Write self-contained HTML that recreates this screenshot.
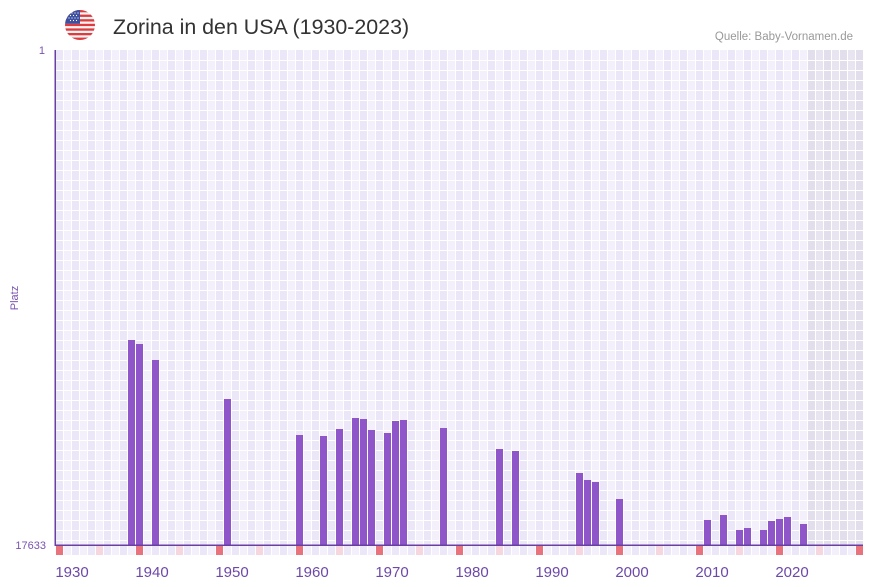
<!DOCTYPE html>
<html>
<head>
<meta charset="utf-8">
<style>
html,body{margin:0;padding:0;background:#fff;}
svg{display:block;}
text{font-family:"Liberation Sans",sans-serif;}
</style>
</head>
<body>
<svg width="873" height="587" viewBox="0 0 873 587" xmlns="http://www.w3.org/2000/svg">
<defs>
  <pattern id="cols" x="56" y="0" width="16" height="10" patternUnits="userSpaceOnUse">
    <rect x="0" y="0" width="16" height="10" fill="#ffffff"/>
    <rect x="0" y="0" width="7" height="10" fill="#ece7f8"/>
    <rect x="8" y="0" width="7" height="10" fill="#f3f0fb"/>
  </pattern>
  <pattern id="gcols" x="56" y="0" width="16" height="10" patternUnits="userSpaceOnUse">
    <rect x="0" y="0" width="16" height="10" fill="#ffffff"/>
    <rect x="0" y="0" width="7" height="10" fill="#e2deec"/>
    <rect x="8" y="0" width="7" height="10" fill="#e8e5f0"/>
  </pattern>
  <pattern id="rows" x="0" y="60" width="8" height="10" patternUnits="userSpaceOnUse">
    <rect x="0" y="0" width="8" height="1" fill="#ffffff"/>
  </pattern>
  <clipPath id="flagclip"><circle cx="80" cy="25" r="15"/></clipPath>
</defs>

<!-- flag -->
<g clip-path="url(#flagclip)">
  <rect x="65" y="10" width="30" height="30" fill="#f4f4f4"/>
  <rect x="65" y="10" width="30" height="2.3" fill="#e0393e"/>
  <rect x="65" y="14.6" width="30" height="2.3" fill="#e0393e"/>
  <rect x="65" y="19.2" width="30" height="2.3" fill="#e0393e"/>
  <rect x="65" y="23.8" width="30" height="2.3" fill="#e0393e"/>
  <rect x="65" y="28.4" width="30" height="2.3" fill="#e0393e"/>
  <rect x="65" y="33" width="30" height="2.3" fill="#e0393e"/>
  <rect x="65" y="37.6" width="30" height="2.4" fill="#e0393e"/>
  <rect x="65" y="10" width="15" height="13.8" fill="#3d4f9e"/>
  <g fill="#ffffff">
    <circle cx="69" cy="13" r="0.6"/><circle cx="72" cy="13" r="0.6"/><circle cx="75" cy="13" r="0.6"/><circle cx="78" cy="13" r="0.6"/>
    <circle cx="70.5" cy="15.5" r="0.6"/><circle cx="73.5" cy="15.5" r="0.6"/><circle cx="76.5" cy="15.5" r="0.6"/>
    <circle cx="69" cy="18" r="0.6"/><circle cx="72" cy="18" r="0.6"/><circle cx="75" cy="18" r="0.6"/><circle cx="78" cy="18" r="0.6"/>
    <circle cx="70.5" cy="20.5" r="0.6"/><circle cx="73.5" cy="20.5" r="0.6"/><circle cx="76.5" cy="20.5" r="0.6"/>
  </g>
</g>

<text x="113" y="34" font-size="21.4" fill="#333333">Zorina in den USA (1930-2023)</text>
<text x="853" y="40" font-size="11.5" fill="#999999" text-anchor="end">Quelle: Baby-Vornamen.de</text>

<!-- grid -->
<rect x="56" y="50" width="752" height="495" fill="url(#cols)"/>
<rect x="808" y="50" width="55" height="495" fill="url(#gcols)"/>
<rect x="56" y="51" width="807" height="494" fill="url(#rows)"/>

<!-- bottom strip -->
<rect x="56" y="546" width="807" height="9" fill="url(#cols)"/>
<g fill="#e8737c">
  <rect x="56" y="546" width="7" height="9"/>
  <rect x="136" y="546" width="7" height="9"/>
  <rect x="216" y="546" width="7" height="9"/>
  <rect x="296" y="546" width="7" height="9"/>
  <rect x="376" y="546" width="7" height="9"/>
  <rect x="456" y="546" width="7" height="9"/>
  <rect x="536" y="546" width="7" height="9"/>
  <rect x="616" y="546" width="7" height="9"/>
  <rect x="696" y="546" width="7" height="9"/>
  <rect x="776" y="546" width="7" height="9"/>
  <rect x="856" y="546" width="7" height="9"/>
</g>
<g fill="#f6d6df">
  <rect x="96" y="546" width="7" height="9"/>
  <rect x="176" y="546" width="7" height="9"/>
  <rect x="256" y="546" width="7" height="9"/>
  <rect x="336" y="546" width="7" height="9"/>
  <rect x="416" y="546" width="7" height="9"/>
  <rect x="496" y="546" width="7" height="9"/>
  <rect x="576" y="546" width="7" height="9"/>
  <rect x="656" y="546" width="7" height="9"/>
  <rect x="736" y="546" width="7" height="9"/>
  <rect x="816" y="546" width="7" height="9"/>
</g>

<!-- bars -->
<g fill="#8e56c8">
  <rect x="128" y="340" width="7" height="205"/>
  <rect x="136" y="344" width="7" height="201"/>
  <rect x="152" y="360" width="7" height="185"/>
  <rect x="224" y="399" width="7" height="146"/>
  <rect x="296" y="435" width="7" height="110"/>
  <rect x="320" y="436" width="7" height="109"/>
  <rect x="336" y="429" width="7" height="116"/>
  <rect x="352" y="418" width="7" height="127"/>
  <rect x="360" y="419" width="7" height="126"/>
  <rect x="368" y="430" width="7" height="115"/>
  <rect x="384" y="433" width="7" height="112"/>
  <rect x="392" y="421" width="7" height="124"/>
  <rect x="400" y="420" width="7" height="125"/>
  <rect x="440" y="428" width="7" height="117"/>
  <rect x="496" y="449" width="7" height="96"/>
  <rect x="512" y="451" width="7" height="94"/>
  <rect x="576" y="473" width="7" height="72"/>
  <rect x="584" y="480" width="7" height="65"/>
  <rect x="592" y="482" width="7" height="63"/>
  <rect x="616" y="499" width="7" height="46"/>
  <rect x="704" y="520" width="7" height="25"/>
  <rect x="720" y="515" width="7" height="30"/>
  <rect x="736" y="530" width="7" height="15"/>
  <rect x="744" y="528" width="7" height="17"/>
  <rect x="760" y="530" width="7" height="15"/>
  <rect x="768" y="521" width="7" height="24"/>
  <rect x="776" y="519" width="7" height="26"/>
  <rect x="784" y="517" width="7" height="28"/>
  <rect x="800" y="524" width="7" height="21"/>
</g>

<!-- axes -->
<rect x="54.5" y="50" width="1.5" height="496" fill="#6a3fa3"/>
<rect x="55" y="544.5" width="808" height="1.5" fill="#6a3fa3"/>

<!-- y labels -->
<text x="45" y="54" font-size="11" fill="#7a52b0" text-anchor="end">1</text>
<text x="46" y="549" font-size="11" fill="#7a52b0" text-anchor="end">17633</text>
<text transform="translate(18,298) rotate(-90)" font-size="11" fill="#7a52b0" text-anchor="middle">Platz</text>

<!-- x labels -->
<g font-size="15" fill="#6e48a8" text-anchor="middle">
  <text x="72" y="577">1930</text>
  <text x="152" y="577">1940</text>
  <text x="232" y="577">1950</text>
  <text x="312" y="577">1960</text>
  <text x="392" y="577">1970</text>
  <text x="472" y="577">1980</text>
  <text x="552" y="577">1990</text>
  <text x="632" y="577">2000</text>
  <text x="712" y="577">2010</text>
  <text x="792" y="577">2020</text>
</g>
</svg>
</body>
</html>
